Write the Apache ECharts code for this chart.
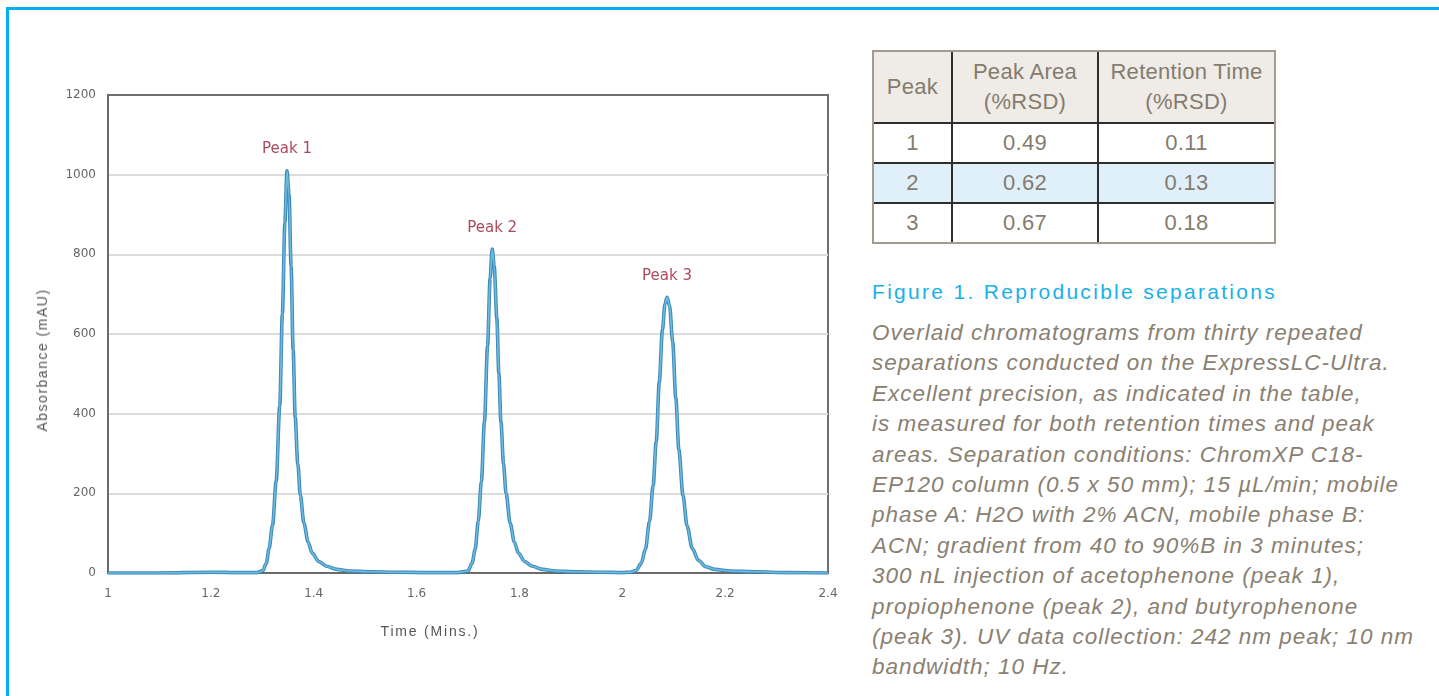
<!DOCTYPE html>
<html>
<head>
<meta charset="utf-8">
<script src="https://cdn.jsdelivr.net/npm/echarts@6/dist/echarts.min.js"></script>
<style>
  html, body { margin: 0; padding: 0; background: #fff; width: 1439px; height: 696px; overflow: hidden; }
  #frame { position: absolute; left: 6px; top: 7px; right: -10px; bottom: -10px; border-top: 3px solid #00aeef; border-left: 3px solid #00aeef; }
  #chart { position: absolute; left: 0; top: 0; width: 860px; height: 696px; }
  #tbl { position: absolute; left: 872px; top: 50px; border-collapse: separate; border-spacing: 0; border: 2px solid #a39b90;
         font-family: "Liberation Sans", Arial, sans-serif; font-size: 22px; letter-spacing: 0.3px; color: #857b6e; }
  #tbl td { text-align: center; border-right: 2px solid #2e2e2e; border-bottom: 2px solid #2e2e2e; padding: 0; }
  #tbl tr td:last-child { border-right: none; }
  #tbl tr:last-child td { border-bottom: none; }
  #tbl tr.hd td { background: #efebe6; height: 70px; line-height: 30px; }
  #tbl tr.r td { height: 38px; }
  #tbl tr.hl td { background: #dff0fa; }
  #figtitle { position: absolute; left: 872px; top: 280px; font-family: "Liberation Sans", Arial, sans-serif; font-size: 21px; color: #1ab0e8; white-space: nowrap; letter-spacing: 2.3px; }
  #caption { position: absolute; left: 872px; top: 318px; font-family: "Liberation Sans", Arial, sans-serif; font-style: italic; font-size: 22.5px; letter-spacing: 1px; line-height: 30.4px; color: #8a8072; white-space: nowrap; }
  .axname { position: absolute; font-family: "Liberation Sans", Arial, sans-serif; font-size: 14px; color: #555; white-space: nowrap; }
  #yname { left: 42px; top: 360px; letter-spacing: 1.5px; transform: translate(-50%, -50%) rotate(-90deg); }
  #xname { left: 430px; top: 631px; letter-spacing: 1.8px; transform: translate(-50%, -50%); }
</style>
</head>
<body>
<div id="frame"></div>
<div id="chart"></div>
<div class="axname" id="yname"></div>
<div class="axname" id="xname"></div>
<table id="tbl"></table>
<div id="figtitle"></div>
<div id="caption"></div>
<script>
// ---- chromatogram data (time in minutes, absorbance in mAU) ----
var timeMins = [
  1.00, 1.10, 1.20, 1.25, 1.29,
  1.301, 1.308, 1.313, 1.320, 1.327, 1.334, 1.339, 1.344, 1.348, 1.352, 1.356, 1.360, 1.364, 1.369, 1.374, 1.381, 1.389, 1.397, 1.410, 1.425, 1.445, 1.47, 1.51, 1.56, 1.62, 1.68,
  1.700, 1.708, 1.714, 1.720, 1.726, 1.732, 1.738, 1.743, 1.747, 1.751, 1.756, 1.760, 1.764, 1.769, 1.774, 1.782, 1.790, 1.798, 1.810, 1.825, 1.845, 1.87, 1.91, 1.96, 2.00,
  2.015, 2.027, 2.037, 2.045, 2.053, 2.060, 2.066, 2.072, 2.078, 2.083, 2.087, 2.092, 2.098, 2.104, 2.110, 2.118, 2.126, 2.136, 2.148, 2.162, 2.18, 2.21, 2.26, 2.32, 2.40
];
var absorbance = [
  0, 0, 2, 1, 1,
  6, 25, 60, 120, 230, 420, 650, 880, 1010, 950, 770, 560, 390, 275, 195, 125, 78, 50, 29, 17, 9, 5, 3, 2, 1, 1,
  5, 25, 60, 130, 230, 380, 570, 740, 813, 770, 640, 500, 380, 275, 200, 125, 78, 50, 29, 17, 9, 5, 3, 2, 1,
  2, 6, 25, 60, 130, 220, 330, 480, 610, 675, 692, 670, 580, 440, 310, 195, 118, 62, 32, 16, 9, 5, 3, 1, 0
];
var peakNames = ['Peak 1', 'Peak 2', 'Peak 3'];
var peakTimes = [1.348, 1.747, 2.087];
var peakHeights = [1010, 813, 692];
var yTicks = [0, 200, 400, 600, 800, 1000, 1200];
var xTicks = ['1', '1.2', '1.4', '1.6', '1.8', '2', '2.2', '2.4'];
var xAxisName = 'Time (Mins.)';
var yAxisName = 'Absorbance (mAU)';

// ---- table data ----
var tableHeader = ['Peak', 'Peak Area<br>(%RSD)', 'Retention Time<br>(%RSD)'];
var tablePeaks = ['1', '2', '3'];
var tableArea = ['0.49', '0.62', '0.67'];
var tableRT = ['0.11', '0.13', '0.18'];

var figureTitle = 'Figure 1. Reproducible separations';
var captionLines = [
  'Overlaid chromatograms from thirty repeated',
  'separations conducted on the ExpressLC-Ultra.',
  'Excellent precision, as indicated in the table,',
  'is measured for both retention times and peak',
  'areas. Separation conditions: ChromXP C18-',
  'EP120 column (0.5 x 50 mm); 15 \u00B5L/min; mobile',
  'phase A: H2O with 2% ACN, mobile phase B:',
  'ACN; gradient from 40 to 90%B in 3 minutes;',
  '300 nL injection of acetophenone (peak 1),',
  'propiophenone (peak 2), and butyrophenone',
  '(peak 3). UV data collection: 242 nm peak; 10 nm',
  'bandwidth; 10 Hz.'
];

// build table and texts
var tbl = document.getElementById('tbl');
var html = '<colgroup><col style="width:79px"><col style="width:146px"><col style="width:175px"></colgroup>';
html += '<tr class="hd">' + tableHeader.map(function (h) { return '<td>' + h + '</td>'; }).join('') + '</tr>';
for (var i = 0; i < tablePeaks.length; i++) {
  html += '<tr class="r' + (i === 1 ? ' hl' : '') + '"><td>' + tablePeaks[i] + '</td><td>' + tableArea[i] + '</td><td>' + tableRT[i] + '</td></tr>';
}
tbl.innerHTML = html;
document.getElementById('figtitle').textContent = figureTitle;
document.getElementById('caption').innerHTML = captionLines.join('<br>');
document.getElementById('xname').textContent = xAxisName;
document.getElementById('yname').textContent = yAxisName;

// ---- chart ----
var lineData = timeMins.map(function (t, i) { return [t, absorbance[i]]; });
var labelData = peakTimes.map(function (t, i) { return { name: peakNames[i], value: [t, peakHeights[i]] }; });

var chart = echarts.init(document.getElementById('chart'), null, { renderer: 'canvas' });
chart.setOption({
  animation: false,
  grid: { left: 108, top: 95, width: 720, height: 478, show: true, borderColor: '#6e6e6e', borderWidth: 2, backgroundColor: 'transparent' },
  xAxis: {
    type: 'value', min: 1, max: 2.4, interval: 0.2,
    axisLine: { show: true, lineStyle: { color: '#6a6a6a', width: 2 } },
    axisTick: { show: false },
    splitLine: { show: false },
    axisLabel: {
      color: '#666', fontSize: 12, margin: 15, fontFamily: 'DejaVu Sans',
      formatter: function (v) { var idx = Math.round((v - 1) / 0.2); return xTicks[idx] !== undefined ? xTicks[idx] : ''; }
    }
  },
  yAxis: {
    type: 'value', min: 0, max: 1200, interval: 200,
    axisLine: { show: true, lineStyle: { color: '#6a6a6a', width: 2 } },
    axisTick: { show: false },
    splitLine: { show: true, showMinLine: false, showMaxLine: false, lineStyle: { color: '#dcdcdc', width: 2 } },
    axisLabel: {
      color: '#666', fontSize: 12, margin: 12, fontFamily: 'DejaVu Sans',
      formatter: function (v) { return yTicks.indexOf(v) >= 0 ? String(v) : ''; }
    }
  },
  series: [
    {
      type: 'line', data: lineData, showSymbol: false, smooth: 0.3, smoothMonotone: 'x',
      lineStyle: { color: '#3f89b5', width: 3.6 }, z: 2
    },
    {
      type: 'line', data: lineData, showSymbol: false, smooth: 0.3, smoothMonotone: 'x',
      lineStyle: { color: '#6bbce4', width: 1.6 }, z: 3
    },
    {
      type: 'scatter', data: labelData, symbolSize: 0, z: 4,
      label: {
        show: true, position: 'top', distance: 14, formatter: '{b}',
        color: '#961a33', fontSize: 15, fontFamily: 'DejaVu Sans'
      }
    }
  ]
});
</script>
</body>
</html>
